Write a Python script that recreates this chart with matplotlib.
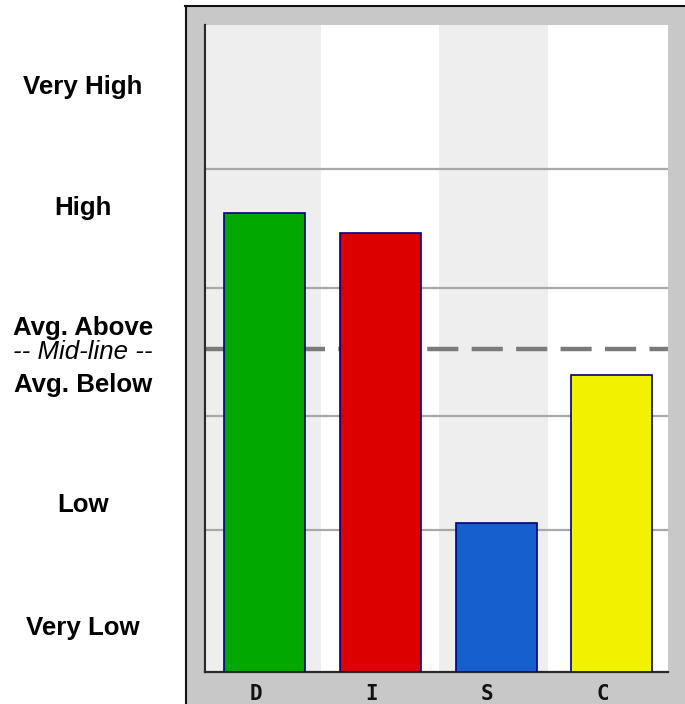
import matplotlib
matplotlib.use("Agg")
import matplotlib.pyplot as plt
from matplotlib.patches import Rectangle
from matplotlib.lines import Line2D
import matplotlib.transforms as mtransforms

# ---- data ----
categories = ["D", "I", "S", "C"]
values = [71.0, 67.9, 23.0, 45.9]
bar_colors = ["#00a800", "#dd0000", "#1560cc", "#f2f200"]
grid_levels = [21.9, 39.6, 59.3, 77.7]
mid_level = 50.0
level_labels = ["Very High", "High", "Avg. Above", "-- Mid-line --", "Avg. Below", "Low", "Very Low"]
level_label_pos = [90.4, 71.7, 53.1, 49.4, 44.3, 25.8, 6.8]
column_edges = [-0.5, 0.49, 1.51, 2.45, 3.5]
column_bg = ["#eeeeee", "#ffffff", "#eeeeee", "#ffffff"]

W, H = 685, 704
fig = plt.figure(figsize=(W / 100, H / 100), dpi=100)
fig.patch.set_facecolor("white")

# gray frame
fig.patches.append(Rectangle((185 / W, 0), (W - 185) / W, (H - 5) / H,
                             transform=fig.transFigure, facecolor="#c8c8c8",
                             edgecolor="none", zorder=-2))
fig.lines.append(Line2D([185 / W, 1], [1 - 5.5 / H, 1 - 5.5 / H], transform=fig.transFigure,
                        color="#111111", lw=1.5, zorder=-1))
fig.lines.append(Line2D([185.5 / W, 185.5 / W], [0, 1 - 5.5 / H], transform=fig.transFigure,
                        color="#111111", lw=1.5, zorder=-1))

ax = fig.add_axes([205 / W, (H - 672) / H, 463 / W, 647 / H])
ax.set_zorder(2)
ax.set_xlim(-0.515, 3.485)
ax.set_ylim(0, 100)
ax.set_facecolor("white")

for i, c in enumerate(column_bg):
    ax.axvspan(column_edges[i], column_edges[i + 1], color=c, zorder=0, lw=0)

for g in grid_levels:
    ax.axhline(g, color="#a8a8a8", lw=1.6, zorder=1)

ax.axhline(mid_level, color="#7a7a7a", lw=3.2, ls=(0, (7, 3)), zorder=1)

ax.bar(range(len(categories)), values, width=0.70, color=bar_colors,
       edgecolor="#000080", linewidth=1.2, zorder=3)

for s in ["top", "right"]:
    ax.spines[s].set_visible(False)
for s in ["left", "bottom"]:
    ax.spines[s].set_color("#2a2a2a")
    ax.spines[s].set_linewidth(1.6)

ax.set_yticks([])
ax.set_xticks(range(len(categories)))
ax.set_xticklabels(categories, fontfamily="DejaVu Sans Mono", fontweight="bold",
                   fontsize=15, color="#111111")
ax.tick_params(axis="x", length=0, pad=8.5)
offset = mtransforms.ScaledTranslation(-9 / 100, 0, fig.dpi_scale_trans)
for lbl in ax.get_xticklabels():
    lbl.set_transform(lbl.get_transform() + offset)

for txt, pos in zip(level_labels, level_label_pos):
    frac = ax.transAxes.inverted().transform(ax.transData.transform((0, pos)))[1]
    y_fig = (H - 672) / H + frac * 647 / H
    italic = txt.startswith("--")
    fig.text(83 / W, y_fig, txt, ha="center", va="center",
             fontfamily="Liberation Sans",
             fontweight="normal" if italic else "bold",
             fontstyle="italic" if italic else "normal",
             fontsize=18.6, color="black")

fig.savefig("out.png", dpi=100, facecolor="white")
